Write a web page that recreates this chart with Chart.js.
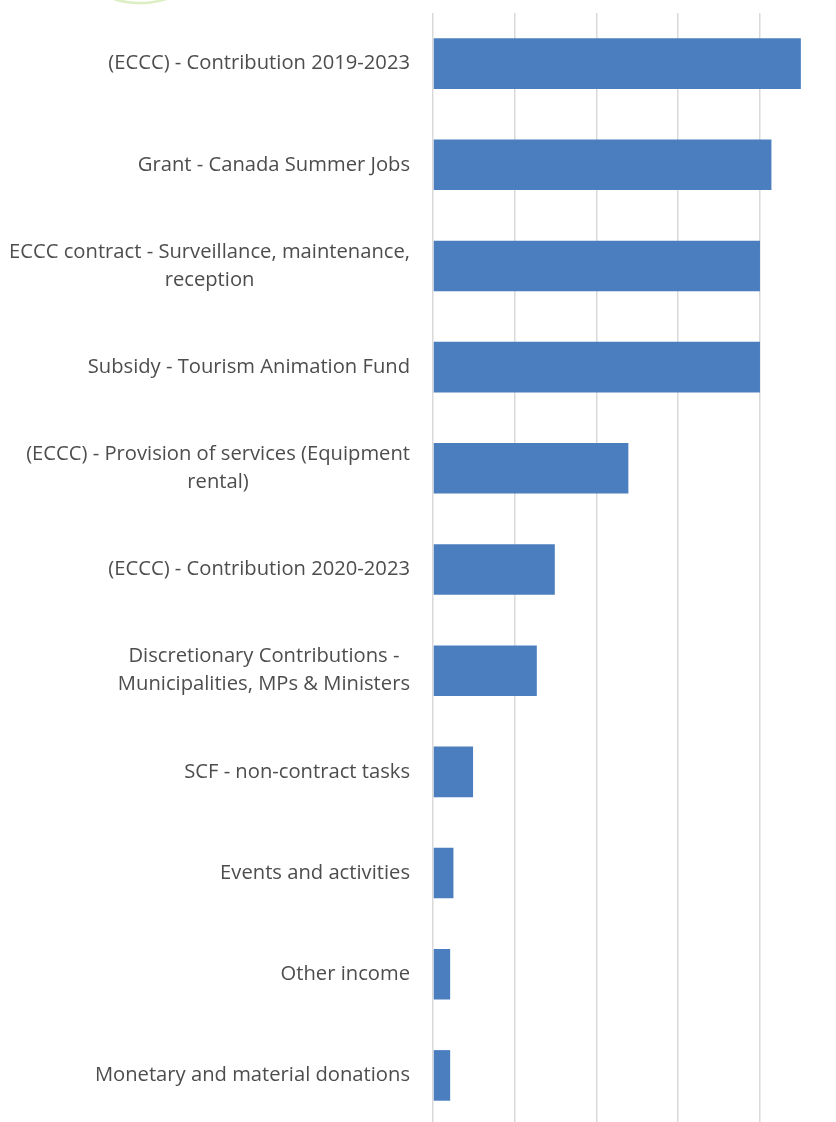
<!DOCTYPE html>
<html>
<head>
<meta charset="utf-8">
<script src="https://cdn.jsdelivr.net/npm/chart.js@4/dist/chart.umd.min.js"></script>
<style>
  html, body { margin: 0; padding: 0; background: #fff; overflow: hidden; }
  #wrap { width: 836px; height: 1126px; }
</style>
</head>
<body>
<div id="wrap"><canvas id="myChart"></canvas></div>
<script>
const categories = [
  '(ECCC) - Contribution 2019-2023',
  'Grant - Canada Summer Jobs',
  ['ECCC contract - Surveillance, maintenance,', 'reception'],
  'Subsidy - Tourism Animation Fund',
  ['(ECCC) - Provision of services (Equipment', 'rental)'],
  '(ECCC) - Contribution 2020-2023',
  ['Discretionary Contributions -', 'Municipalities, MPs & Ministers'],
  'SCF - non-contract tasks',
  'Events and activities',
  'Other income',
  'Monetary and material donations'
];
const amounts = [4.5, 4.14, 4.0, 4.0, 2.39, 1.49, 1.27, 0.49, 0.25, 0.21, 0.21];

const labelFont = '20.2px "Open Sans", sans-serif';
const labelColor = '#4d4d4d';

// draws category labels: block right-aligned, lines centred inside it
const categoryLabels = {
  id: 'categoryLabels',
  afterDraw(chart) {
    const ctx = chart.ctx;
    const yScale = chart.scales.y;
    const right = chart.chartArea.left - 23;
    const lineH = 28;
    ctx.save();
    ctx.font = labelFont;
    ctx.fillStyle = labelColor;
    ctx.textBaseline = 'middle';
    categories.forEach((lab, i) => {
      const lines = Array.isArray(lab) ? lab : [lab];
      const y = yScale.getPixelForValue(i);
      const widest = Math.max(...lines.map(l => ctx.measureText(l).width));
      const cx = right - widest / 2;
      ctx.textAlign = 'center';
      lines.forEach((l, k) => {
        ctx.fillText(l, cx, y + (k - (lines.length - 1) / 2) * lineH);
      });
    });
    ctx.restore();
  }
};

// faint green arc at the very top (page decoration)
const topArc = {
  id: 'topArc',
  beforeDraw(chart) {
    const ctx = chart.ctx;
    ctx.save();
    ctx.strokeStyle = '#dcefc4';
    ctx.lineWidth = 2.5;
    ctx.beginPath();
    ctx.ellipse(140, -30, 55, 33, 0, 0.18 * Math.PI, 0.82 * Math.PI);
    ctx.stroke();
    ctx.restore();
  }
};

new Chart(document.getElementById('myChart'), {
  type: 'bar',
  data: {
    labels: categories,
    datasets: [{
      data: amounts,
      backgroundColor: '#4a7ebf',
      borderWidth: 0,
      categoryPercentage: 1,
      barPercentage: 0.5
    }]
  },
  options: {
    indexAxis: 'y',
    responsive: true,
    maintainAspectRatio: false,
    animation: false,
    layout: { padding: { left: 433, top: 13, right: 0, bottom: 0 } },
    plugins: {
      legend: { display: false },
      tooltip: { enabled: false }
    },
    scales: {
      x: {
        min: 0,
        max: 4.93,
        ticks: { display: false, stepSize: 1 },
        border: { display: false },
        grid: {
          drawTicks: false,
          lineWidth: 1.5,
          color: c => (c.tick && Number.isInteger(c.tick.value)) ? '#d9d9d9' : 'transparent'
        }
      },
      y: {
        display: false
      }
    }
  },
  plugins: [topArc, categoryLabels]
});
</script>
</body>
</html>
